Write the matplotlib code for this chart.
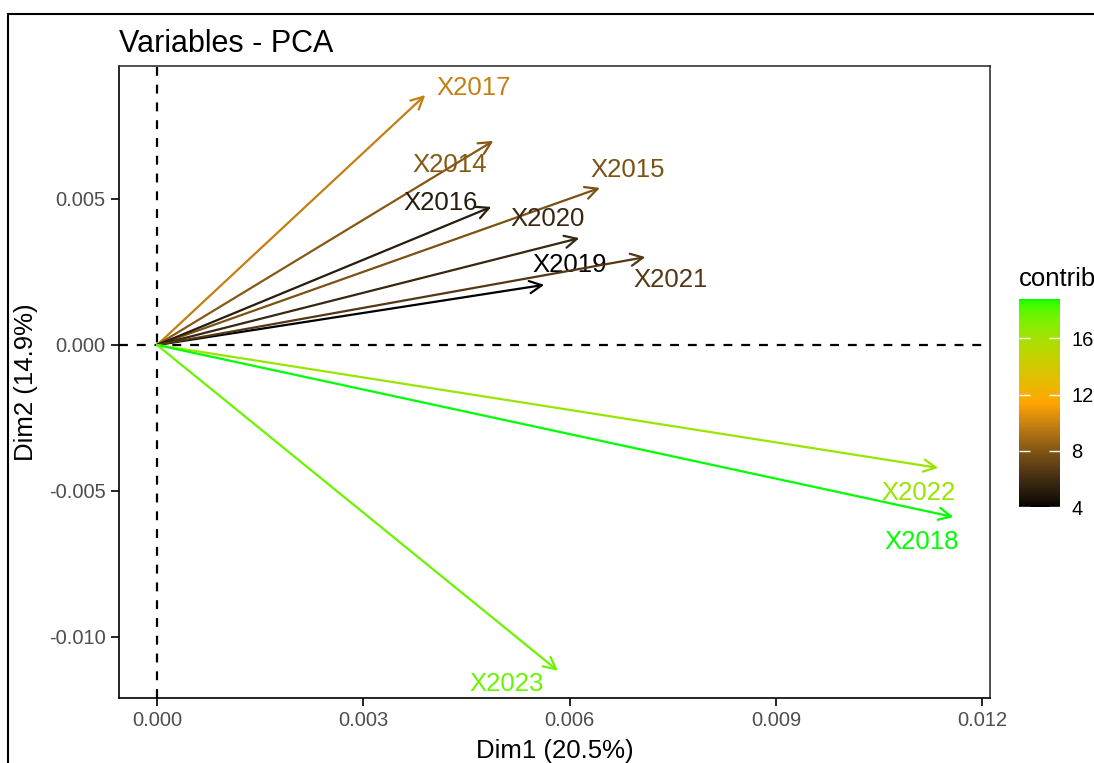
import numpy as np
import matplotlib.pyplot as plt
from matplotlib.colors import ListedColormap, Normalize, to_rgb
from matplotlib.patches import Rectangle

plt.rcParams["font.family"] = ["Liberation Sans", "DejaVu Sans"]

names = ["X2017", "X2014", "X2015", "X2016", "X2020",
         "X2019", "X2021", "X2022", "X2018", "X2023"]
dim1 = [0.00390, 0.00489, 0.00644, 0.00486, 0.00614,
        0.00563, 0.00710, 0.01136, 0.01158, 0.00583]
dim2 = [0.00856, 0.00699, 0.00538, 0.00473, 0.00366,
        0.00206, 0.00301, -0.00421, -0.00589, -0.01116]
contrib = [9.8, 8.1, 7.8, 5.1, 5.7, 4.0, 6.6, 16.4, 18.8, 17.7]

# label offsets (pixels) from arrow tips
label_dx = [48, -44, 28, -51, -32, 25, 25, -20, -32, -51]
label_dy = [7, -24, 18, 4, 19, 20, -23, -25, -25, -13]

gradient = ["#000000", "#FFA500", "#00FF00"]


# ggplot interpolates the gradient in Lab space
M = np.array([[0.4124, 0.3576, 0.1805],
              [0.2126, 0.7152, 0.0722],
              [0.0193, 0.1192, 0.9505]])
white = M.sum(axis=1)


def to_lab(rgb):
    c = np.asarray(rgb)
    lin = np.where(c <= 0.04045, c / 12.92, ((c + 0.055) / 1.055) ** 2.4)
    xyz = M @ lin / white
    f = np.where(xyz > 0.008856, np.cbrt(xyz), 7.787 * xyz + 16 / 116)
    return np.array([116 * f[1] - 16, 500 * (f[0] - f[1]), 200 * (f[1] - f[2])])


def from_lab(lab):
    L, a, b = lab
    fy = (L + 16) / 116
    fx = fy + a / 500
    fz = fy - b / 200
    f = np.array([fx, fy, fz])
    xyz = np.where(f ** 3 > 0.008856, f ** 3, (f - 16 / 116) / 7.787) * white
    lin = np.linalg.solve(M, xyz)
    lin = np.clip(lin, 0, 1)
    c = np.where(lin <= 0.0031308, 12.92 * lin, 1.055 * lin ** (1 / 2.4) - 0.055)
    return np.clip(c, 0, 1)


labs = [to_lab(to_rgb(c)) for c in gradient]
t = np.linspace(0, 1, 256)
cols = []
for v in t:
    seg = min(int(v * 2), 1)
    u = v * 2 - seg
    cols.append(from_lab(labs[seg] * (1 - u) + labs[seg + 1] * u))
cmap = ListedColormap(cols)
norm = Normalize(vmin=min(contrib), vmax=max(contrib))

fig = plt.figure(figsize=(10.94, 7.63), dpi=100)
ax = fig.add_axes([0.1088, 0.0852, 0.7962, 0.8283])

ax.axhline(0, color="black", ls=(0, (4, 4)), lw=1.6, zorder=1)
ax.axvline(0, color="black", ls=(0, (4, 4)), lw=1.6, zorder=1)

for n, x, y, c, dx, dy in zip(names, dim1, dim2, contrib, label_dx, label_dy):
    col = cmap(norm(c))
    ax.annotate("", xy=(x, y), xytext=(0, 0),
                arrowprops=dict(arrowstyle="->", color=col, lw=1.6,
                                mutation_scale=22, shrinkA=0, shrinkB=0))
    ax.annotate(n, xy=(x, y), xytext=(dx, dy), textcoords="offset pixels",
                ha="center", va="center", fontsize=18.5, color=col)

ax.set_xlim(-0.000553, 0.012113)
ax.set_ylim(-0.01209, 0.009555)
ax.set_xticks([0.0, 0.003, 0.006, 0.009, 0.012])
ax.set_xticklabels(["0.000", "0.003", "0.006", "0.009", "0.012"])
ax.set_yticks([-0.010, -0.005, 0.0, 0.005])
ax.set_yticklabels(["-0.010", "-0.005", "0.000", "0.005"])
ax.tick_params(labelsize=14.5, labelcolor="#4D4D4D", length=6, width=1.2)
for s in ax.spines.values():
    s.set_color("#333333")
    s.set_linewidth(1.2)
ax.spines["left"].set_color("black")
ax.spines["bottom"].set_color("black")

ax.set_xlabel("Dim1 (20.5%)", fontsize=18.5, labelpad=6)
ax.set_ylabel("Dim2 (14.9%)", fontsize=18.5, labelpad=8)
ax.set_title("Variables - PCA", fontsize=22, loc="left", pad=10)

# colour bar
cax = fig.add_axes([0.9314, 0.3355, 0.0375, 0.2726])
sm = plt.cm.ScalarMappable(norm=norm, cmap=cmap)
cb = fig.colorbar(sm, cax=cax, ticks=[4, 8, 12, 16])
cb.outline.set_visible(False)
cax.tick_params(axis="y", color="white", direction="in", length=8, width=1,
                labelsize=14.5, left=True, right=True, pad=8)
fig.text(1019 / 1094, 1 - 279 / 763, "contrib", fontsize=18.5, va="center", ha="left")

# outer frame
fig.patches.append(Rectangle((8 / 1094, -0.1), 1.2, 1 - 14 / 763 + 0.1,
                             transform=fig.transFigure, fill=False,
                             edgecolor="black", lw=1.5))

fig.savefig("out.png", dpi=100)
